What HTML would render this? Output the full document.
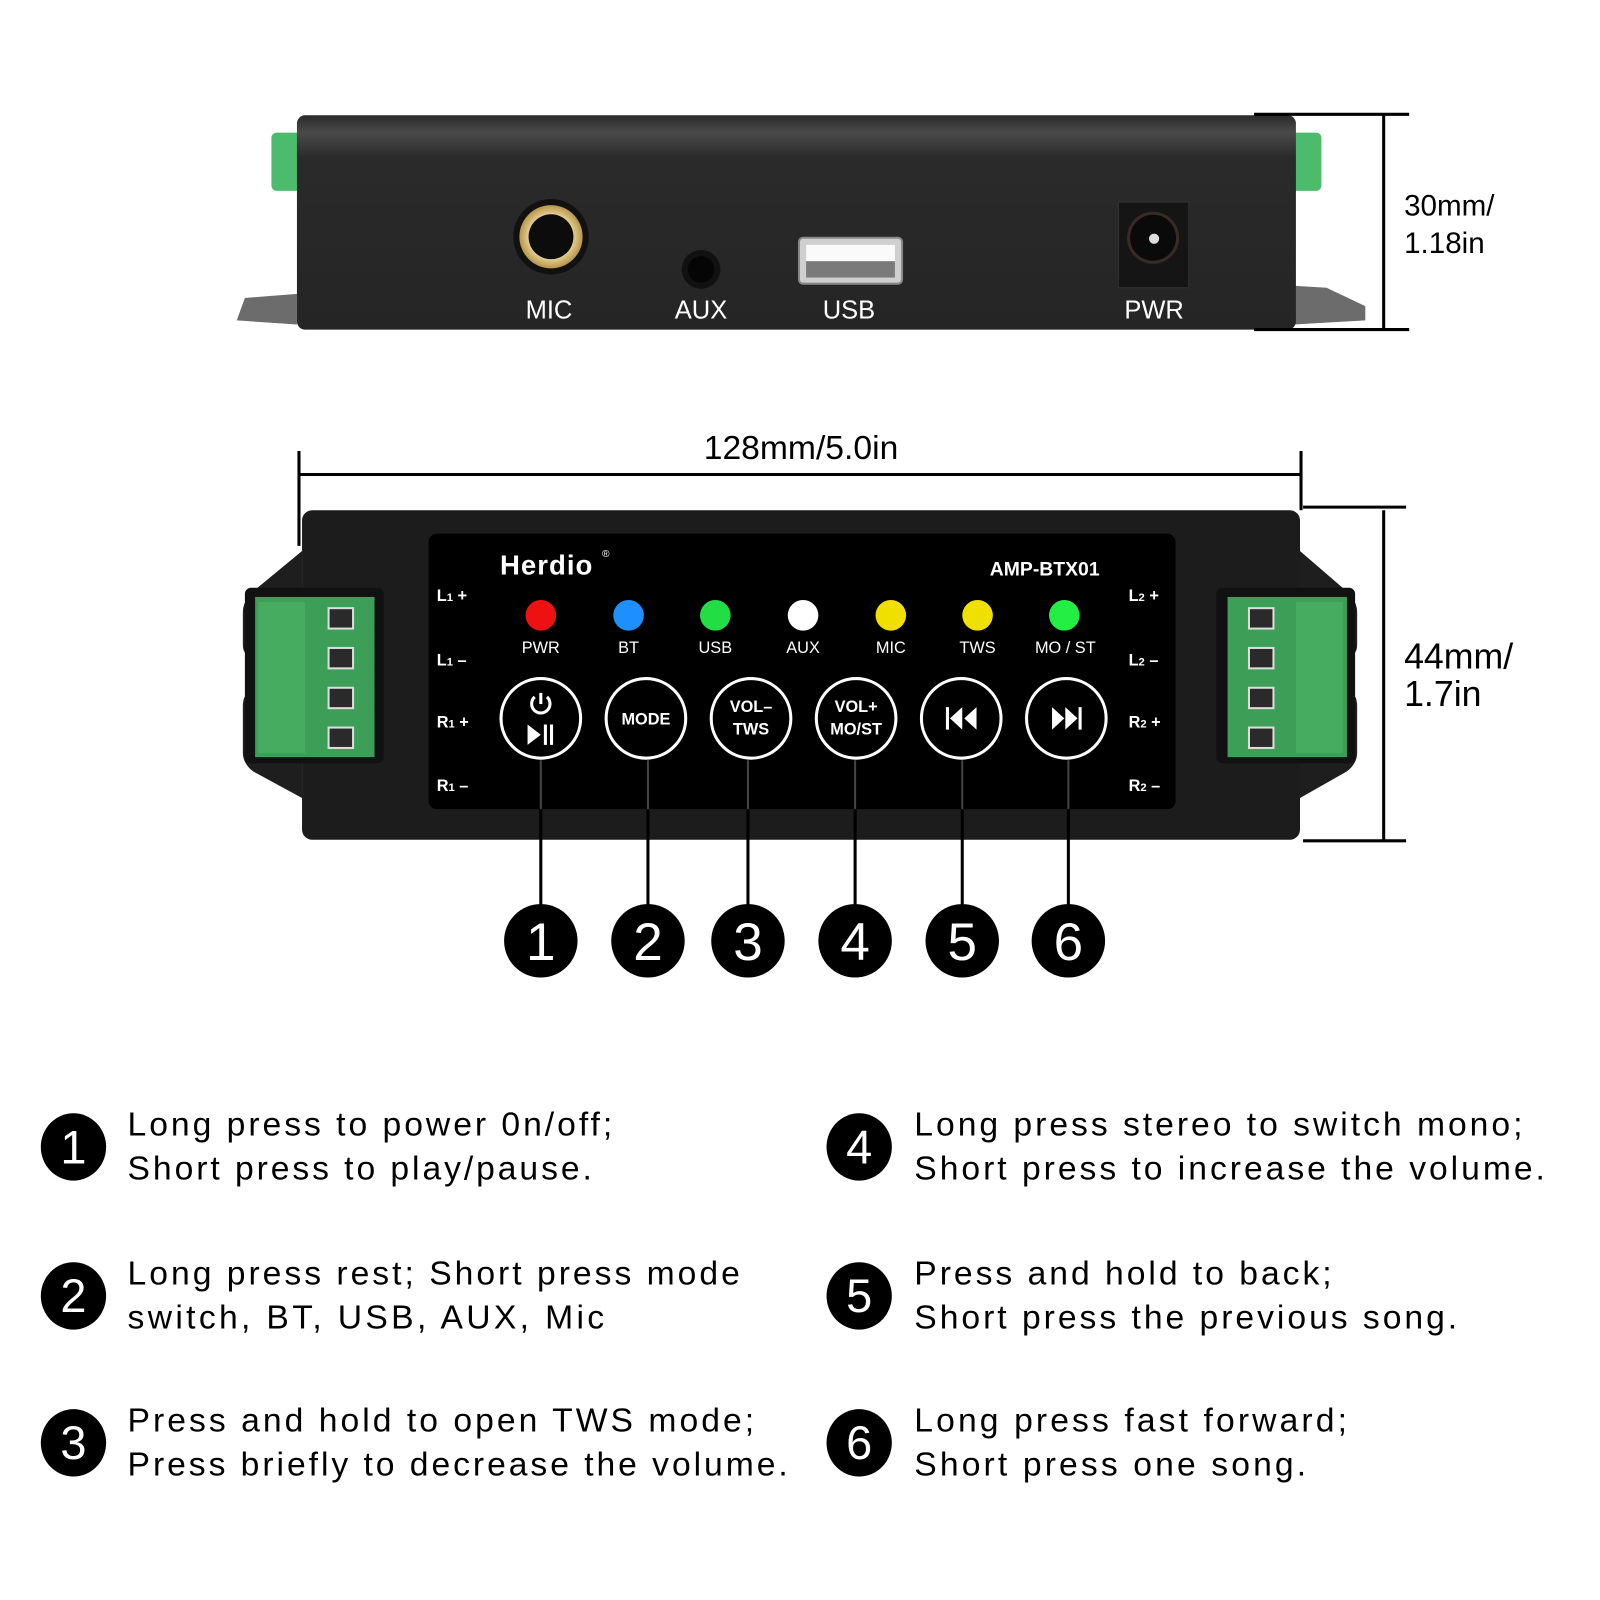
<!DOCTYPE html>
<html><head><meta charset="utf-8"><style>
html,body{margin:0;padding:0;background:#fff;width:1600px;height:1600px;overflow:hidden}
svg{display:block}
text{font-family:"Liberation Sans",sans-serif}
</style></head><body>
<svg width="1600" height="1600" viewBox="0 0 1568 1568" xmlns="http://www.w3.org/2000/svg">
<defs>
<linearGradient id="top" x1="0" y1="0" x2="0" y2="1">
<stop offset="0" stop-color="#2a2a2a"/><stop offset="0.08" stop-color="#4a4a4a"/><stop offset="0.2" stop-color="#2a2a2a"/><stop offset="1" stop-color="#252525"/></linearGradient>
<radialGradient id="gold"><stop offset="0.6" stop-color="#f2e3b0"/><stop offset="1" stop-color="#b89548"/></radialGradient>
</defs>
<rect width="1568" height="1568" fill="#fff"/>

<!-- TOP VIEW -->
<rect x="266" y="130" width="30" height="57" rx="5" fill="#4dbb6c"/>
<rect x="1264" y="130" width="31" height="57" rx="5" fill="#4dbb6c"/>
<path d="M240 292 L291 288 L291 318 L232 314 Z" fill="#6c6c6c"/>
<path d="M1268 280 L1300 282 L1338 300 L1338 314 L1268 318 Z" fill="#6c6c6c"/>
<rect x="291" y="113" width="979" height="210" rx="8" fill="url(#top)"/>
<circle cx="540" cy="232" r="37" fill="#111"/>
<circle cx="540" cy="232" r="31" fill="url(#gold)"/>
<circle cx="540" cy="232" r="22" fill="#0c0c0c"/>
<circle cx="687" cy="264" r="19" fill="#111"/>
<circle cx="687" cy="264" r="13" fill="#050505"/>
<rect x="783" y="233" width="101" height="45" rx="4" fill="#cfcfcf" stroke="#888" stroke-width="2"/>
<rect x="790" y="240" width="87" height="16" fill="#fafafa"/>
<rect x="790" y="256" width="87" height="16" fill="#7a7a7a"/>
<rect x="1096" y="198" width="69" height="84" fill="#151515" stroke="#333"/>
<circle cx="1130" cy="233" r="24" fill="#0a0a0a" stroke="#3a2a26" stroke-width="3"/>
<circle cx="1131" cy="234" r="5" fill="#ddd"/>
<g fill="#fff" font-size="25" text-anchor="middle">
<text x="538" y="312">MIC</text><text x="687" y="312">AUX</text><text x="832" y="312">USB</text><text x="1131" y="312">PWR</text></g>
<g stroke="#000" stroke-width="3">
<line x1="1229" y1="112" x2="1381" y2="112"/><line x1="1229" y1="323" x2="1381" y2="323"/><line x1="1356" y1="112" x2="1356" y2="323"/>
</g>
<text x="1376" y="211" font-size="29">30mm/</text>
<text x="1376" y="248" font-size="29">1.18in</text>

<!-- FRONT VIEW dimensions -->
<g stroke="#000" stroke-width="3">
<line x1="293" y1="465" x2="1275" y2="465"/>
<line x1="293" y1="442" x2="293" y2="535"/>
<line x1="1275" y1="442" x2="1275" y2="500"/>
<line x1="1277" y1="497" x2="1378" y2="497"/><line x1="1277" y1="824" x2="1378" y2="824"/>
<line x1="1356" y1="500" x2="1356" y2="824"/>
</g>
<text x="785" y="450" font-size="33" text-anchor="middle">128mm/5.0in</text>
<text x="1376" y="655" font-size="35">44mm/</text>
<text x="1376" y="692" font-size="35">1.7in</text>

<!-- flanges -->
<path d="M296 540 L250 578 Q238 588 238 600 L238 632 Q238 642 246 642 L246 678 Q238 680 238 692 L238 738 Q238 748 248 756 L296 782 Z" fill="#1e1e1e"/>
<path d="M1274 540 L1318 578 Q1330 588 1330 600 L1330 632 Q1330 642 1322 642 L1322 678 Q1330 680 1330 692 L1330 738 Q1330 748 1320 756 L1274 782 Z" fill="#1e1e1e"/>
<rect x="296" y="500" width="978" height="323" rx="10" fill="#1c1c1c"/>
<rect x="240" y="576" width="136" height="172" rx="6" fill="#111"/>
<rect x="1192" y="576" width="136" height="172" rx="6" fill="#111"/>
<!-- terminals -->
<rect x="250" y="585" width="117" height="157" fill="#3c9e57"/>
<rect x="253" y="590" width="46" height="148" fill="#46ad60"/>
<rect x="1203" y="585" width="117" height="157" fill="#3c9e57"/>
<rect x="1270" y="590" width="46" height="148" fill="#46ad60"/>
<g fill="#2a2a2a" stroke="#ddd" stroke-width="2">
<rect x="322" y="596" width="24" height="20"/><rect x="322" y="635" width="24" height="20"/><rect x="322" y="674" width="24" height="20"/><rect x="322" y="713" width="24" height="20"/>
<rect x="1224" y="596" width="24" height="20"/><rect x="1224" y="635" width="24" height="20"/><rect x="1224" y="674" width="24" height="20"/><rect x="1224" y="713" width="24" height="20"/>
</g>
<!-- panel -->
<rect x="420" y="523" width="732" height="270" rx="8" fill="#000"/>
<text x="490" y="563" font-size="27" font-weight="bold" fill="#fff" letter-spacing="1">Herdio</text>
<text x="590" y="546" font-size="10" fill="#fff">®</text>
<text x="970" y="564" font-size="19" font-weight="bold" fill="#fff">AMP-BTX01</text>
<g font-size="16" font-weight="bold" fill="#fff">
<text x="428" y="589">L<tspan font-size="11">1</tspan> +</text>
<text x="428" y="652">L<tspan font-size="11">1</tspan> –</text>
<text x="428" y="713">R<tspan font-size="11">1</tspan> +</text>
<text x="428" y="775">R<tspan font-size="11">1</tspan> –</text>
<text x="1106" y="589">L<tspan font-size="11">2</tspan> +</text>
<text x="1106" y="652">L<tspan font-size="11">2</tspan> –</text>
<text x="1106" y="713">R<tspan font-size="11">2</tspan> +</text>
<text x="1106" y="775">R<tspan font-size="11">2</tspan> –</text>
</g>
<circle cx="530" cy="603" r="15" fill="#ee1111"/>
<circle cx="616" cy="603" r="15" fill="#1e8fff"/>
<circle cx="701" cy="603" r="15" fill="#22dd44"/>
<circle cx="787" cy="603" r="15" fill="#fff"/>
<circle cx="873" cy="603" r="15" fill="#f0e000"/>
<circle cx="958" cy="603" r="15" fill="#f0e000"/>
<circle cx="1043" cy="603" r="15" fill="#22ee44"/>
<g fill="#fff" font-size="16" text-anchor="middle">
<text x="530" y="640">PWR</text><text x="616" y="640">BT</text><text x="701" y="640">USB</text><text x="787" y="640">AUX</text><text x="873" y="640">MIC</text><text x="958" y="640">TWS</text><text x="1044" y="640">MO / ST</text></g>
<g fill="none" stroke="#fff" stroke-width="3">
<circle cx="530" cy="704" r="39"/><circle cx="633" cy="704" r="39"/><circle cx="736" cy="704" r="39"/><circle cx="839" cy="704" r="39"/><circle cx="942" cy="704" r="39"/><circle cx="1045" cy="704" r="39"/>
<path d="M524 683 A9 9 0 1 0 536 683"/><line x1="530" y1="679" x2="530" y2="690"/>
</g>
<g fill="#fff">
<path d="M517 710 L530 720 L517 730 Z"/><rect x="533" y="710" width="3" height="20"/><rect x="539" y="710" width="3" height="20"/>
<path d="M927 693 h3 v22 h-3 Z M943 693 L931 704 L943 715 Z M957 693 L945 704 L957 715 Z"/>
<path d="M1031 693 L1043 704 L1031 715 Z M1044 693 L1056 704 L1044 715 Z M1057 693 h3 v22 h-3 Z"/>
</g>
<g fill="#fff" font-size="16" font-weight="bold" text-anchor="middle">
<text x="633" y="710">MODE</text>
<text x="736" y="698">VOL–</text><text x="736" y="720">TWS</text>
<text x="839" y="698">VOL+</text><text x="839" y="720">MO/ST</text>
</g>
<g stroke="#000" stroke-width="3">
<line x1="530" y1="793" x2="530" y2="887"/><line x1="635" y1="793" x2="635" y2="887"/><line x1="733" y1="793" x2="733" y2="887"/><line x1="838" y1="793" x2="838" y2="887"/><line x1="943" y1="793" x2="943" y2="887"/><line x1="1047" y1="793" x2="1047" y2="887"/>
</g>
<g stroke="#444" stroke-width="2">
<line x1="530" y1="745" x2="530" y2="793"/><line x1="635" y1="745" x2="635" y2="793"/><line x1="733" y1="745" x2="733" y2="793"/><line x1="838" y1="745" x2="838" y2="793"/><line x1="943" y1="745" x2="943" y2="793"/><line x1="1047" y1="745" x2="1047" y2="793"/>
</g>
<g fill="#000"><circle cx="530" cy="922" r="36"/><circle cx="635" cy="922" r="36"/><circle cx="733" cy="922" r="36"/><circle cx="838" cy="922" r="36"/><circle cx="943" cy="922" r="36"/><circle cx="1047" cy="922" r="36"/></g>
<g fill="#fff" font-size="52" text-anchor="middle">
<text x="530" y="941">1</text><text x="635" y="941">2</text><text x="733" y="941">3</text><text x="838" y="941">4</text><text x="943" y="941">5</text><text x="1047" y="941">6</text></g>

<!-- legend -->
<g fill="#000"><ellipse cx="72" cy="1124" rx="32" ry="33"/><ellipse cx="72" cy="1270" rx="32" ry="33"/><ellipse cx="72" cy="1414" rx="32" ry="33"/><ellipse cx="842" cy="1124" rx="32" ry="33"/><ellipse cx="842" cy="1270" rx="32" ry="33"/><ellipse cx="842" cy="1414" rx="32" ry="33"/></g>
<g fill="#fff" font-size="46" text-anchor="middle">
<text x="72" y="1140">1</text><text x="72" y="1286">2</text><text x="72" y="1430">3</text><text x="842" y="1140">4</text><text x="842" y="1286">5</text><text x="842" y="1430">6</text></g>
<g fill="#000" font-size="33">
<text x="125" y="1113" textLength="475" lengthAdjust="spacing">Long press to power 0n/off;</text>
<text x="125" y="1156" textLength="455" lengthAdjust="spacing">Short press to play/pause.</text>
<text x="125" y="1259" textLength="600" lengthAdjust="spacing">Long press rest; Short press mode</text>
<text x="125" y="1302" textLength="467" lengthAdjust="spacing">switch, BT, USB, AUX, Mic</text>
<text x="125" y="1403" textLength="614" lengthAdjust="spacing">Press and hold to open TWS mode;</text>
<text x="125" y="1446" textLength="647" lengthAdjust="spacing">Press briefly to decrease the volume.</text>
<text x="896" y="1113" textLength="596" lengthAdjust="spacing">Long press stereo to switch mono;</text>
<text x="896" y="1156" textLength="618" lengthAdjust="spacing">Short press to increase the volume.</text>
<text x="896" y="1259" textLength="409" lengthAdjust="spacing">Press and hold to back;</text>
<text x="896" y="1302" textLength="532" lengthAdjust="spacing">Short press the previous song.</text>
<text x="896" y="1403" textLength="424" lengthAdjust="spacing">Long press fast forward;</text>
<text x="896" y="1446" textLength="384" lengthAdjust="spacing">Short press one song.</text>
</g>
</svg>
</body></html>
